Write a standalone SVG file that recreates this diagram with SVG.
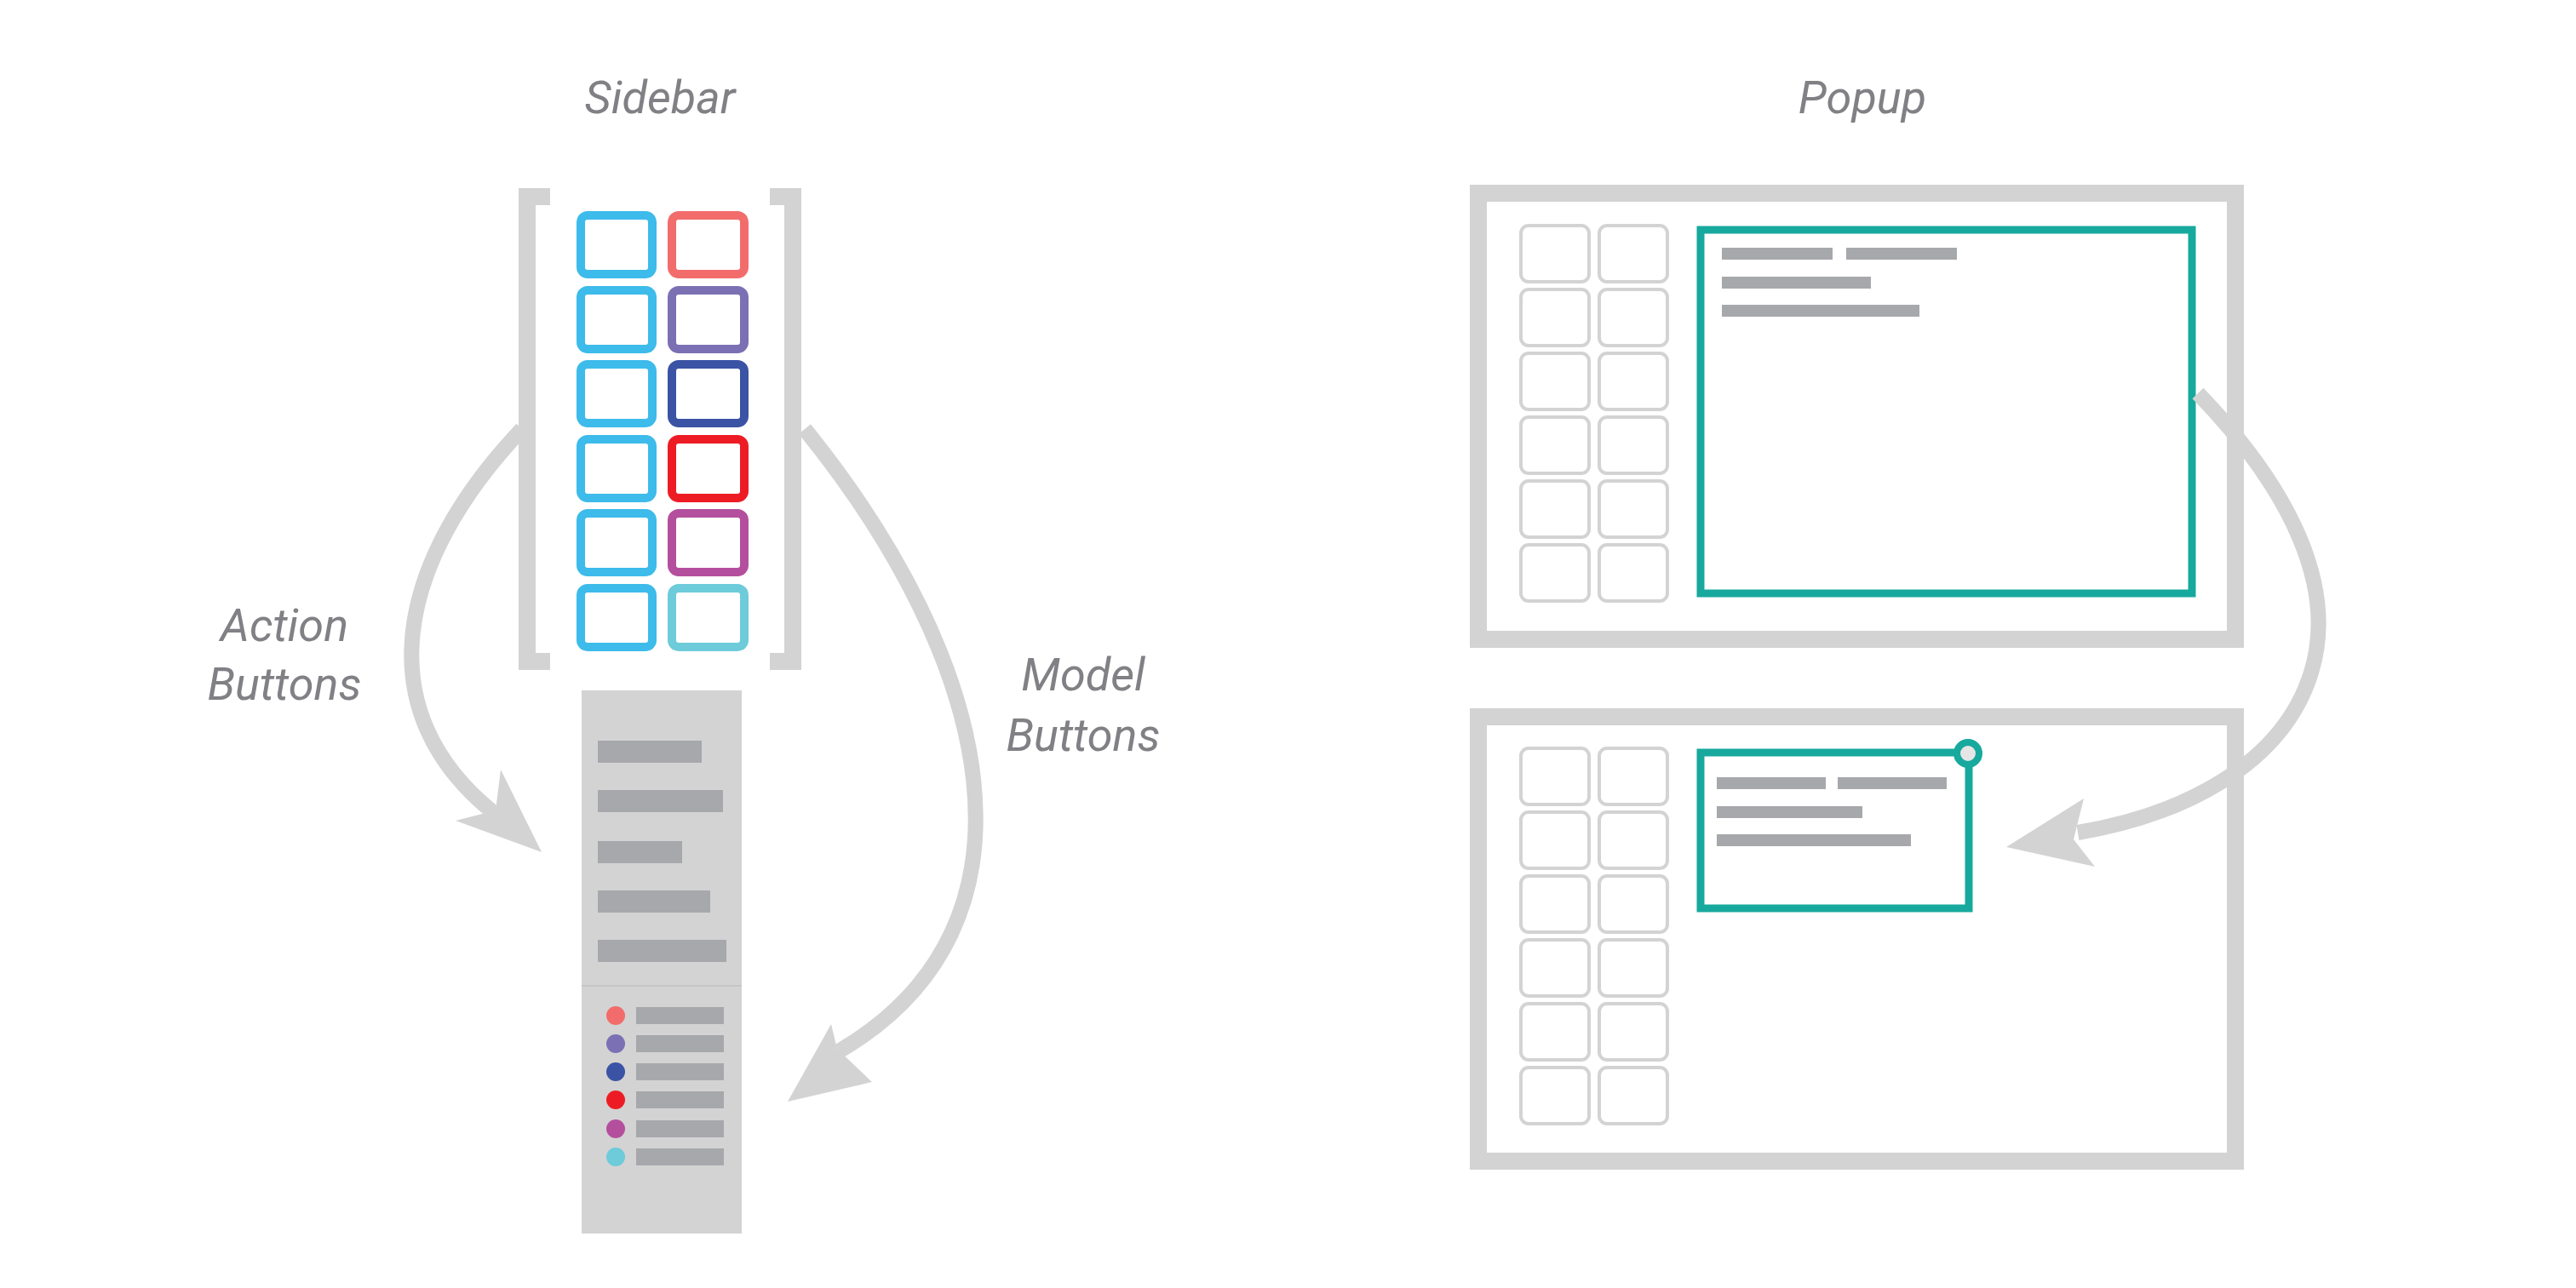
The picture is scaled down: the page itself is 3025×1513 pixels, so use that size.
<svg xmlns="http://www.w3.org/2000/svg" width="3025" height="1513" viewBox="0 0 3025 1513">
<style>
.lbl{font-family:Roboto,"Liberation Sans",sans-serif;font-style:italic;font-size:54px;fill:#808085;text-anchor:middle}
.br{fill:none;stroke:#D3D3D3;stroke-width:20}
.btn{fill:#fff;stroke-width:10}
.bar{fill:#A7A8AC}
.tile{fill:#fff;stroke:#D3D3D3;stroke-width:4}
.win{fill:#fff;stroke:#D3D3D3;stroke-width:20}
.teal{fill:#fff;stroke:#17A99D;stroke-width:9}
.conn{fill:none;stroke:#D3D3D3;stroke-width:18}
.head{fill:#D3D3D3}
</style>
<rect width="3025" height="1513" fill="#fff"/>
<text class="lbl" x="775" y="133">Sidebar</text>
<text class="lbl" x="2187" y="133">Popup</text>
<text class="lbl" x="334" y="753">Action</text>
<text class="lbl" x="334" y="822">Buttons</text>
<text class="lbl" x="1272" y="811">Model</text>
<text class="lbl" x="1272" y="882">Buttons</text>

<g id="sidebar">
<path class="br" d="M646,231 H619 V777 H646"/>
<path class="br" d="M904,231 H931 V777 H904"/>
<g stroke="#3DBBEA">
<rect class="btn" x="682" y="253" width="84" height="69" rx="8"/>
<rect class="btn" x="682" y="341" width="84" height="69" rx="8"/>
<rect class="btn" x="682" y="428" width="84" height="69" rx="8"/>
<rect class="btn" x="682" y="516" width="84" height="69" rx="8"/>
<rect class="btn" x="682" y="603" width="84" height="69" rx="8"/>
<rect class="btn" x="682" y="691" width="84" height="69" rx="8"/>
</g>
<rect class="btn" stroke="#F26C6C" x="789" y="253" width="85" height="69" rx="8"/>
<rect class="btn" stroke="#7B70B3" x="789" y="341" width="85" height="69" rx="8"/>
<rect class="btn" stroke="#3B53A4" x="789" y="428" width="85" height="69" rx="8"/>
<rect class="btn" stroke="#ED1C24" x="789" y="516" width="85" height="69" rx="8"/>
<rect class="btn" stroke="#B44F9D" x="789" y="603" width="85" height="69" rx="8"/>
<rect class="btn" stroke="#6DCBDA" x="789" y="691" width="85" height="69" rx="8"/>
</g>

<g id="panel">
<rect x="683" y="811" width="188" height="638" fill="#D3D3D3"/>
<line x1="683" y1="1158" x2="871" y2="1158" stroke="#C6C6C6" stroke-width="2"/>
<rect class="bar" x="702" y="870" width="122" height="26"/>
<rect class="bar" x="702" y="928" width="147" height="26"/>
<rect class="bar" x="702" y="988" width="99" height="26"/>
<rect class="bar" x="702" y="1046" width="132" height="26"/>
<rect class="bar" x="702" y="1104" width="151" height="26"/>
<circle cx="723" cy="1193" r="11" fill="#F26C6C"/>
<circle cx="723" cy="1226" r="11" fill="#7B70B3"/>
<circle cx="723" cy="1259" r="11" fill="#3B53A4"/>
<circle cx="723" cy="1292" r="11" fill="#ED1C24"/>
<circle cx="723" cy="1326" r="11" fill="#B44F9D"/>
<circle cx="723" cy="1359" r="11" fill="#6DCBDA"/>
<rect class="bar" x="747" y="1183" width="103" height="20"/>
<rect class="bar" x="747" y="1216" width="103" height="20"/>
<rect class="bar" x="747" y="1249" width="103" height="20"/>
<rect class="bar" x="747" y="1282" width="103" height="20"/>
<rect class="bar" x="747" y="1316" width="103" height="20"/>
<rect class="bar" x="747" y="1349" width="103" height="20"/>
</g>

<g id="popup-top">
<rect class="win" x="1736" y="227" width="889" height="524"/>
<g class="tiles">
<rect class="tile" x="1786" y="265" width="80" height="66" rx="9"/><rect class="tile" x="1878" y="265" width="80" height="66" rx="9"/>
<rect class="tile" x="1786" y="340" width="80" height="66" rx="9"/><rect class="tile" x="1878" y="340" width="80" height="66" rx="9"/>
<rect class="tile" x="1786" y="415" width="80" height="66" rx="9"/><rect class="tile" x="1878" y="415" width="80" height="66" rx="9"/>
<rect class="tile" x="1786" y="490" width="80" height="66" rx="9"/><rect class="tile" x="1878" y="490" width="80" height="66" rx="9"/>
<rect class="tile" x="1786" y="565" width="80" height="66" rx="9"/><rect class="tile" x="1878" y="565" width="80" height="66" rx="9"/>
<rect class="tile" x="1786" y="640" width="80" height="66" rx="9"/><rect class="tile" x="1878" y="640" width="80" height="66" rx="9"/>
</g>
<rect class="teal" x="1997" y="270" width="577" height="427"/>
<rect class="bar" x="2022" y="291" width="130" height="14"/>
<rect class="bar" x="2168" y="291" width="130" height="14"/>
<rect class="bar" x="2022" y="325" width="175" height="14"/>
<rect class="bar" x="2022" y="358" width="232" height="14"/>
</g>

<g id="popup-bottom">
<rect class="win" x="1736" y="842" width="889" height="522"/>
<rect class="tile" x="1786" y="879" width="80" height="66" rx="9"/><rect class="tile" x="1878" y="879" width="80" height="66" rx="9"/>
<rect class="tile" x="1786" y="954" width="80" height="66" rx="9"/><rect class="tile" x="1878" y="954" width="80" height="66" rx="9"/>
<rect class="tile" x="1786" y="1029" width="80" height="66" rx="9"/><rect class="tile" x="1878" y="1029" width="80" height="66" rx="9"/>
<rect class="tile" x="1786" y="1104" width="80" height="66" rx="9"/><rect class="tile" x="1878" y="1104" width="80" height="66" rx="9"/>
<rect class="tile" x="1786" y="1179" width="80" height="66" rx="9"/><rect class="tile" x="1878" y="1179" width="80" height="66" rx="9"/>
<rect class="tile" x="1786" y="1254" width="80" height="66" rx="9"/><rect class="tile" x="1878" y="1254" width="80" height="66" rx="9"/>
<rect class="teal" x="1997" y="884" width="315" height="183"/>
<circle cx="2311" cy="885" r="13" fill="#E6E6E6" stroke="#17A99D" stroke-width="8"/>
<rect class="bar" x="2016" y="913" width="128" height="14"/>
<rect class="bar" x="2158" y="913" width="128" height="14"/>
<rect class="bar" x="2016" y="947" width="171" height="14"/>
<rect class="bar" x="2016" y="980" width="228" height="14"/>
</g>

<g id="connectors">
<path class="conn" d="M613,504 C465,660 430,835 580,955"/>
<polygon class="head" points="636,1001 535,964 582,952 588,904"/>
<path class="conn" d="M945,504 C1165,776 1240,1086 985,1235"/>
<polygon class="head" points="925,1294 1024,1271 983,1232 976,1203"/>
<path class="conn" d="M2581,462 C2690,575 2745,690 2714,790 C2680,900 2560,958 2440,978"/>
<polygon class="head" points="2356,995 2447,938 2435,986 2460,1018"/>
</g>
</svg>
